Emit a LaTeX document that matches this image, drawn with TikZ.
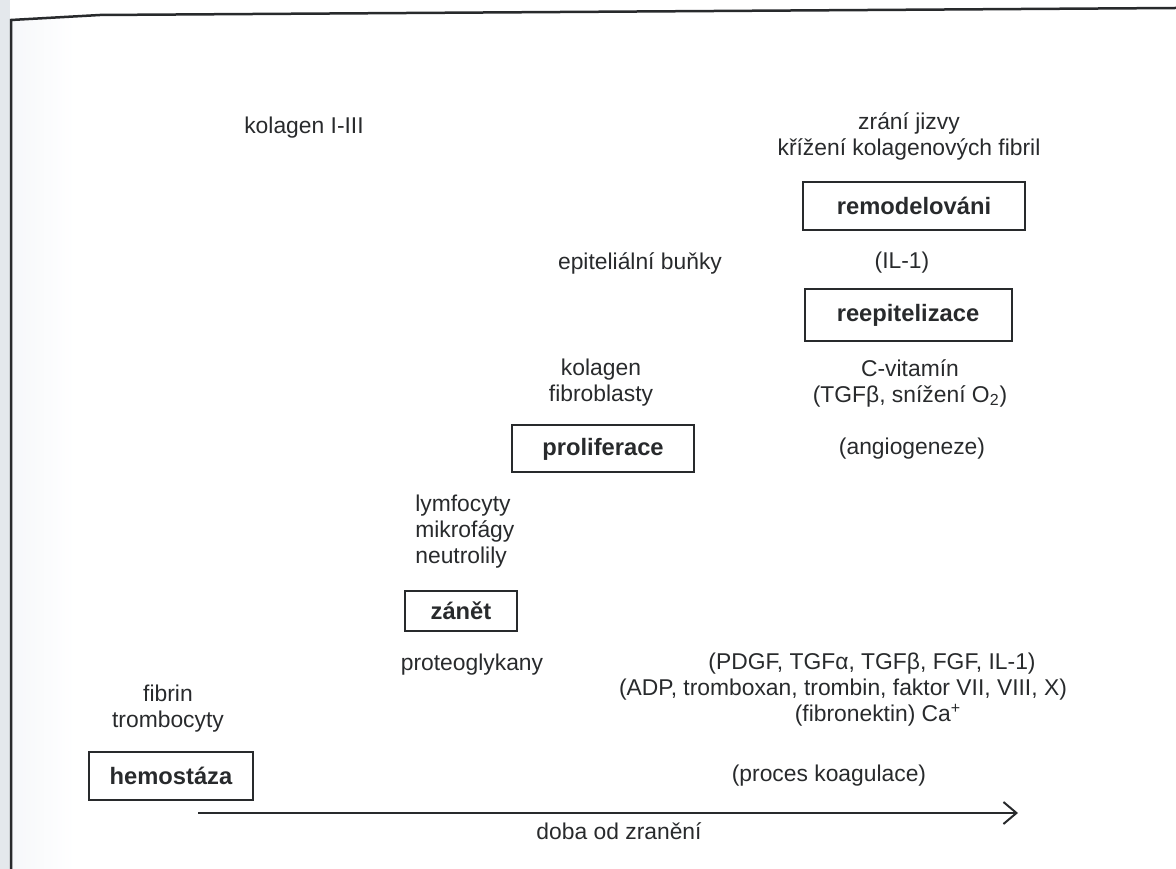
\documentclass[tikz,border=0pt]{standalone}
\usepackage{fontspec}
\setmainfont{Liberation Sans}
\usetikzlibrary{arrows.meta}

\definecolor{scanedge}{RGB}{228,232,236}
\definecolor{scanstrip}{RGB}{246,248,250}
\definecolor{ink}{RGB}{40,42,44}

\begin{document}
\begin{tikzpicture}[
        x=0.2mm, y=-0.2mm,
        phase/.style={
            rectangle,
            draw=ink,
            line width=0.4mm,
            minimum height=9.6mm,
            inner sep=0pt,
            text=ink,
            font=\fontsize{13.5}{16}\selectfont\bfseries
        },
        txt/.style={
            align=center,
            inner sep=0pt,
            text=ink,
            font=\fontsize{13}{14.8}\selectfont
        },
        timeline/.style={
            -{Straight Barb[length=2.6mm,width=4.4mm]},
            line width=0.4mm,
            draw=ink
        }
    ]

    \useasboundingbox (0,0) rectangle (1176,869);

    % scanned page edge
    \fill[scanedge] (0,0) rectangle (10,869);
    \shade[left color=scanstrip, right color=white] (12,20) rectangle (75,869);
    \draw[ink, line width=0.5mm] (11,869) -- (11,20) -- (100,15) -- (1176,8);

    % phases
    \node[phase, minimum width=44.4mm] (remod) at (914,206) {remodelováni};
    \node[phase, minimum width=41.4mm, minimum height=10.4mm] (reepi) at (908,315) {reepitelizace};
    \node[phase, minimum width=36.4mm, minimum height=9.4mm] (prolif) at (603,449) {proliferace};
    \node[phase, minimum width=22.4mm, minimum height=8mm] (zanet) at (461,611) {zánět};
    \node[phase, minimum width=32.8mm] (hemo) at (171,776) {hemostáza};

    % factors
    \node[txt] (kolIII) at (304,128) {kolagen I-III};
    \node[txt] (jizva) at (909,136) {zrání jizvy\\křížení kolagenových fibril};
    \node[txt] (epit) at (640,263) {epiteliální buňky};
    \node[txt] (il1) at (902,263) {(IL-1)};
    \node[txt] (kolfib) at (601,383) {kolagen\\fibroblasty};
    \node[txt] (cvit) at (910,383) {C-vitamín\\(TGFβ, snížení O\textsubscript{2})};
    \node[txt] (angio) at (912,449) {(angiogeneze)};
    \node[txt, align=left, anchor=west] (bunky) at (415,532) {lymfocyty\\mikrofágy\\neutrolily};
    \node[txt] (proteo) at (472,665) {proteoglykany};
    \node[txt] (cytok) at (872,664) {(PDGF, TGFα, TGFβ, FGF, IL-1)};
    \node[txt] (koag) at (843,690) {(ADP, tromboxan, trombin, faktor VII, VIII, X)};
    \node[txt] (fibro) at (878,715) {(fibronektin) Ca\textsuperscript{+}};
    \node[txt] (fibtro) at (168,709) {fibrin\\trombocyty};
    \node[txt] (proces) at (829,776) {(proces koagulace)};

    % time axis
    \coordinate (tstart) at (198,813);
    \coordinate (tend) at (1018,813);
    \draw[timeline] (tstart) -- (tend);
    \node[txt] (doba) at (619,831) {doba od zranění};

\end{tikzpicture}
\end{document}
